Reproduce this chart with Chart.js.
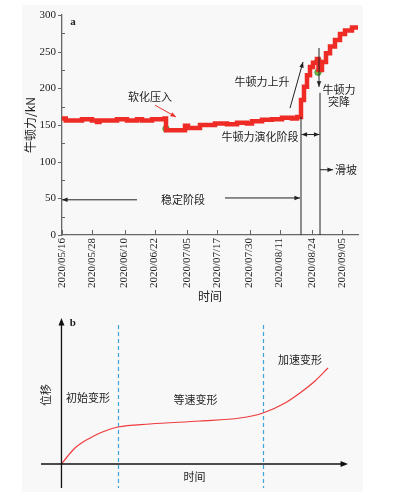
<!DOCTYPE html>
<html>
<head>
<meta charset="utf-8">
<script src="https://cdn.jsdelivr.net/npm/chart.js@4.4.0/dist/chart.umd.min.js"></script>
<style>
  html, body { margin: 0; padding: 0; background: #fff; }
  #wrap { position: relative; width: 394px; height: 500px; }
  #panel { position: absolute; left: 22px; top: 5px; width: 341px; height: 487px; background: #f8f8f8; }
  #c1 { position: absolute; left: 0; top: 0; }
  #c2 { position: absolute; left: 0; top: 305px; }
</style>
</head>
<body>
<div id="wrap">
  <div id="panel"></div>
  <canvas id="c1" width="394" height="305"></canvas>
  <canvas id="c2" width="394" height="195"></canvas>
</div>
<script>
// ---- panel a: force record (days counted from 2020/05/16) ----
const tickDays = [0, 12, 25, 37, 50, 62, 75, 87, 100, 112];
const tickLabels = ['2020/05/16', '2020/05/28', '2020/06/10', '2020/06/22', '2020/07/05',
                    '2020/07/17', '2020/07/30', '2020/08/11', '2020/08/24', '2020/09/05'];
const forceDays = [0, 1.5, 8, 12, 14, 15, 22, 26, 30, 32, 36, 41, 41.6, 49.2, 50.4, 55.2, 61.2,
                   66, 70, 74, 76, 80, 84, 88, 92, 94, 95.6, 96.8, 98, 99.2, 100.4, 102, 102.6,
                   104, 105.6, 107.2, 109.2, 111.2, 113.2, 116, 118.4];
const forceValues = [159, 156, 158, 156, 154, 156, 158, 156, 158, 156, 158, 159, 143, 149, 146, 150, 152,
                     151, 153, 152, 155, 157, 158, 160, 159, 161, 184, 202, 218, 229, 235, 240, 225,
                     236, 248, 257, 266, 274, 279, 283, 283];
const markDays = [41.6, 102.4, 102.4];
const markValues = [145, 238, 222];

// ---- panel b: schematic displacement curve ----
const curveTime = [0, 0.54, 1.32, 2.1, 2.98, 3.76, 5.52, 8.65, 13.54, 17.45, 19.7, 21.85, 23.3, 24.78, 26.05];
const curveDisp = [0, 0.7, 1.6, 2.2, 2.7, 3.1, 3.7, 4.0, 4.3, 4.6, 5.1, 6.1, 7.1, 8.3, 9.6];
const stageBounds = [5.5, 19.7];

const CJK = '"Noto Sans CJK SC", sans-serif';
const SERIF = '"Liberation Serif", "DejaVu Serif", serif';

function arrowHead(ctx, x1, y1, x2, y2, size) {
  const a = Math.atan2(y2 - y1, x2 - x1);
  ctx.beginPath();
  ctx.moveTo(x2, y2);
  ctx.lineTo(x2 - size * Math.cos(a - 0.38), y2 - size * Math.sin(a - 0.38));
  ctx.lineTo(x2 - size * Math.cos(a + 0.38), y2 - size * Math.sin(a + 0.38));
  ctx.closePath();
  ctx.fill();
}

function arrow(ctx, x1, y1, x2, y2, color, both) {
  ctx.save();
  ctx.strokeStyle = color;
  ctx.fillStyle = color;
  ctx.lineWidth = 1;
  ctx.beginPath();
  ctx.moveTo(x1, y1);
  ctx.lineTo(x2, y2);
  ctx.stroke();
  arrowHead(ctx, x1, y1, x2, y2, 6);
  if (both) arrowHead(ctx, x2, y2, x1, y1, 6);
  ctx.restore();
}

function label(ctx, text, x, y, font, rot) {
  ctx.save();
  ctx.fillStyle = '#222';
  ctx.font = font;
  ctx.textAlign = 'center';
  ctx.textBaseline = 'middle';
  ctx.translate(x, y);
  if (rot) ctx.rotate(rot);
  ctx.fillText(text, 0, 0);
  ctx.restore();
}

const forceNotes = {
  id: 'forceNotes',
  afterDraw(chart) {
    const ctx = chart.ctx;
    const xs = chart.scales.x, ys = chart.scales.y;
    const px = v => xs.getPixelForValue(v), py = v => ys.getPixelForValue(v);
    const f = '11px ' + CJK;

    // tick marks
    ctx.save();
    ctx.strokeStyle = '#666';
    ctx.lineWidth = 1;
    for (let v = 0; v <= 300; v += 25) {
      const y = Math.round(py(v)) + 0.5;
      ctx.beginPath();
      if (v % 50 === 0) { ctx.moveTo(xs.left - 4, y); ctx.lineTo(xs.left, y); }
      else { ctx.moveTo(xs.left, y); ctx.lineTo(xs.left + 3, y); }
      ctx.stroke();
    }
    tickDays.forEach(d => {
      const x = Math.round(px(d)) + 0.5;
      ctx.beginPath();
      ctx.moveTo(x, ys.bottom);
      ctx.lineTo(x, ys.bottom - 5);
      ctx.stroke();
    });
    ctx.restore();

    label(ctx, 'a', px(4.4), py(290), 'bold 11px ' + SERIF);

    label(ctx, '软化压入', px(35.2), py(188), f);
    arrow(ctx, px(37.2), py(177), px(45.6), py(161), '#e8322c');

    label(ctx, '牛顿力上升', px(80), py(209), f);
    arrow(ctx, px(91.2), py(173), px(96.4), py(236), '#222');

    label(ctx, '牛顿力', px(110.8), py(198), f);
    label(ctx, '突降', px(110.8), py(181), f);
    arrow(ctx, px(102.8), py(255), px(102.8), py(202), '#222');

    // stage boundaries
    ctx.save();
    ctx.strokeStyle = '#222';
    ctx.lineWidth = 1;
    ctx.beginPath();
    ctx.moveTo(px(95.6), py(161)); ctx.lineTo(px(95.6), py(0));
    ctx.moveTo(px(103.2), py(194)); ctx.lineTo(px(103.2), py(0));
    ctx.stroke();
    ctx.restore();

    label(ctx, '牛顿力演化阶段', px(79.2), py(134), f);
    arrow(ctx, px(95.8), py(137), px(103), py(137), '#222', true);

    label(ctx, '滑坡', px(113.6), py(89), f);
    arrow(ctx, px(103.2), py(89), px(108.4), py(89), '#222');

    label(ctx, '稳定阶段', px(48.4), py(48), f);
    arrow(ctx, px(30), py(48), px(0), py(48), '#222');
    arrow(ctx, px(65.2), py(50.5), px(95.2), py(50.5), '#222');
  }
};

new Chart(document.getElementById('c1'), {
  type: 'line',
  data: {
    datasets: [
      {
        data: forceDays.map((d, i) => ({ x: d, y: forceValues[i] })),
        stepped: true,
        borderColor: '#ee2b25',
        borderWidth: 4.5,
        pointRadius: 0,
        fill: false
      },
      {
        data: markDays.map((d, i) => ({ x: d, y: markValues[i] })),
        showLine: false,
        pointRadius: 3.2,
        pointBackgroundColor: '#6cbf47',
        pointBorderColor: '#3f8a2c',
        pointBorderWidth: 0.8
      }
    ]
  },
  options: {
    responsive: false,
    animation: false,
    layout: { padding: { left: 0, right: 36, top: 15, bottom: 0 } },
    plugins: { legend: { display: false }, tooltip: { enabled: false } },
    scales: {
      x: {
        type: 'linear',
        min: 0,
        max: 118.4,
        afterBuildTicks: s => { s.ticks = tickDays.map(v => ({ value: v })); },
        afterFit: s => { s.height = 70; },
        grid: { drawOnChartArea: false, drawTicks: false },
        border: { display: true, color: '#666', width: 1.3 },
        ticks: {
          autoSkip: false,
          minRotation: 90,
          maxRotation: 90,
          padding: 3,
          color: '#222',
          font: { family: SERIF, size: 11 },
          callback: v => tickLabels[tickDays.indexOf(v)]
        },
        title: {
          display: true,
          text: '时间',
          color: '#222',
          font: { family: CJK, size: 12 },
          padding: { top: 0, bottom: 1 }
        }
      },
      y: {
        min: 0,
        max: 300,
        afterFit: s => { s.width = 62; },
        grid: { drawOnChartArea: false, drawTicks: false },
        border: { display: true, color: '#666', width: 1.3 },
        ticks: {
          stepSize: 50,
          padding: 6,
          color: '#222',
          font: { family: SERIF, size: 11 }
        },
        title: {
          display: true,
          text: '牛顿力/kN',
          color: '#222',
          font: { family: CJK, size: 12 },
          padding: { top: 23, bottom: 0 }
        }
      }
    }
  },
  plugins: [forceNotes]
});

const stageNotes = {
  id: 'stageNotes',
  beforeDatasetsDraw(chart) {
    const ctx = chart.ctx;
    const xs = chart.scales.x, ys = chart.scales.y;
    ctx.save();
    ctx.strokeStyle = '#3ea5dc';
    ctx.lineWidth = 1.2;
    ctx.setLineDash([4, 3]);
    stageBounds.forEach(t => {
      const x = Math.round(xs.getPixelForValue(t)) + 0.5;
      ctx.beginPath();
      ctx.moveTo(x, ys.getPixelForValue(13.9));
      ctx.lineTo(x, ys.getPixelForValue(-2.4));
      ctx.stroke();
    });
    ctx.restore();
  },
  afterDraw(chart) {
    const ctx = chart.ctx;
    const xs = chart.scales.x, ys = chart.scales.y;
    const px = v => xs.getPixelForValue(v), py = v => ys.getPixelForValue(v);
    const f = '11px ' + CJK;

    ctx.save();
    ctx.strokeStyle = '#111';
    ctx.fillStyle = '#111';
    ctx.lineWidth = 1.3;
    ctx.beginPath();
    ctx.moveTo(px(-2), py(0)); ctx.lineTo(px(28) - 4, py(0));
    ctx.moveTo(px(0), py(-2.4)); ctx.lineTo(px(0), py(14.6) + 4);
    ctx.stroke();
    arrowHead(ctx, px(20), py(0), px(28), py(0), 8);
    arrowHead(ctx, px(0), py(5), px(0), py(14.6), 8);
    ctx.restore();

    label(ctx, 'b', px(1.1), py(14.1), 'bold 11px ' + SERIF);
    label(ctx, '位移', px(-1.5), py(6.9), f, -Math.PI / 2);
    label(ctx, '时间', px(13.0), py(-1.3), f);
    label(ctx, '初始变形', px(2.6), py(6.6), f);
    label(ctx, '等速变形', px(13.1), py(6.4), f);
    label(ctx, '加速变形', px(23.3), py(10.4), f);
  }
};

new Chart(document.getElementById('c2'), {
  type: 'line',
  data: {
    datasets: [{
      data: curveTime.map((t, i) => ({ x: t, y: curveDisp[i] })),
      borderColor: '#ee3b3b',
      borderWidth: 1.2,
      pointRadius: 0,
      cubicInterpolationMode: 'monotone',
      fill: false
    }]
  },
  options: {
    responsive: false,
    animation: false,
    layout: { padding: { left: 41, right: 46, top: 13, bottom: 12 } },
    plugins: { legend: { display: false }, tooltip: { enabled: false } },
    scales: {
      x: { type: 'linear', min: -2, max: 28, display: false },
      y: { min: -2.4, max: 14.6, display: false }
    }
  },
  plugins: [stageNotes]
});
</script>
</body>
</html>
